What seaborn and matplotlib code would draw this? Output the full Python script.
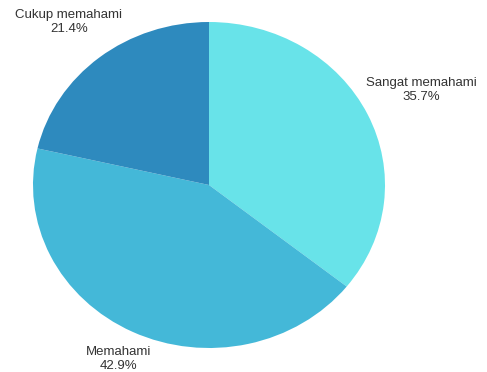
import numpy as np
import matplotlib
matplotlib.use("Agg")
import matplotlib.pyplot as plt
import seaborn as sns

categories = ["Sangat memahami", "Memahami", "Cukup memahami"]
percentages = [35.7, 42.9, 21.4]
colors = ["#68E3E9", "#44B8D8", "#2E8ABE"]
label_dist = [1.34, 1.185, 1.28]

sns.set_theme(style="white")
plt.rcParams["font.family"] = ["Liberation Sans", "DejaVu Sans"]

W, H = 487, 372
fig = plt.figure(figsize=(W / 100, H / 100), dpi=100)
# ellipse spans x 33..385, y 22..348 in pixels
ax = fig.add_axes([33 / W, (H - 348) / H, 352 / W, 326 / H])

wedges, _ = ax.pie(percentages, colors=colors, startangle=90, counterclock=False,
                   wedgeprops=dict(linewidth=0), frame=False)
ax.set_xlim(-1, 1)
ax.set_ylim(-1, 1)
ax.set_aspect("auto")
ax.axis("off")

for w, name, pct, d in zip(wedges, categories, percentages, label_dist):
    mid = np.deg2rad((w.theta1 + w.theta2) / 2)
    ax.text(d * np.cos(mid), d * np.sin(mid), f"{name}\n{pct:.1f}%",
            ha="center", va="center", fontsize=9.5, color="#333333",
            linespacing=1.2, clip_on=False)

fig.savefig("out.png", dpi=100, facecolor="white")
